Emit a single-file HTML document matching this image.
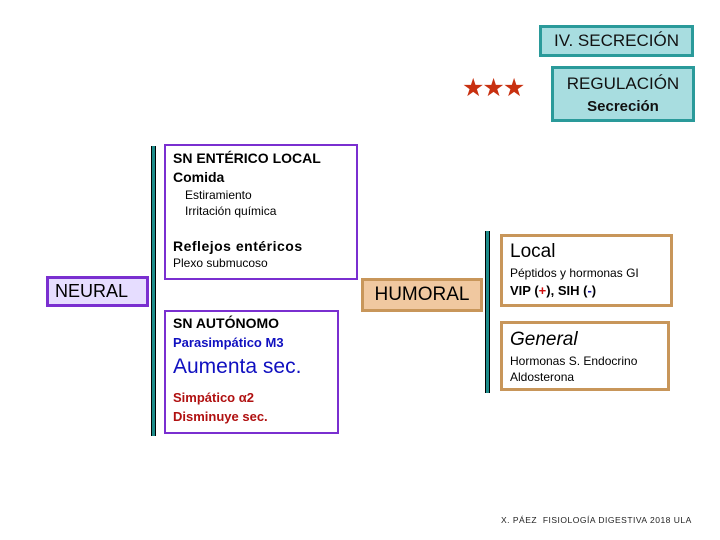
<!DOCTYPE html>
<html><head><meta charset="utf-8"><style>
body{margin:0;width:720px;height:540px;background:#fff;position:relative;overflow:hidden;font-family:"Liberation Sans",sans-serif;}
.a{position:absolute;box-sizing:border-box;}
.p{border:2px solid #7a2fd0;background:#fff;}
.t{border:3px solid #2a9a9a;background:#a8dde0;text-align:center;color:#111;}
.h{border:3px solid #c8965a;background:#fff;}
.bar{background:#1e8c8a;border-left:1px solid #000;border-right:1px solid #000;}
div{white-space:nowrap;}
</style></head><body>
<div class="a t" style="left:539px;top:25px;width:155px;height:32px;font-size:17px;line-height:26px;">IV. SECRECIÓN</div>
<div class="a t" style="left:551px;top:66px;width:144px;height:56px;font-size:17px;line-height:22px;padding-top:4px;">REGULACIÓN<br><b style="font-size:15px">Secreción</b></div>
<div class="a" style="left:462px;top:74px;font-size:25px;color:#c83010;letter-spacing:-2px;line-height:28px;font-family:'DejaVu Sans',sans-serif;">★★★</div>

<div class="a bar" style="left:151px;top:146px;width:5px;height:290px;"></div>
<div class="a" style="left:46px;top:276px;width:103px;height:31px;border:3px solid #7a2fd0;background:#e6ddff;font-size:18px;line-height:25px;padding-left:6px;">NEURAL</div>

<div class="a p" style="left:164px;top:144px;width:194px;height:136px;padding:3px 7px;font-size:12px;line-height:16px;">
<div style="font-weight:bold;font-size:14px;line-height:19px">SN ENTÉRICO LOCAL</div>
<div style="font-weight:bold;font-size:14px;line-height:19px">Comida</div>
<div style="margin-left:12px">Estiramiento</div><div style="margin-left:12px">Irritación química</div>
<div style="height:18px"></div>
<div style="font-weight:bold;font-size:14px;letter-spacing:0.5px;line-height:18px">Reflejos entéricos</div><div>Plexo submucoso</div></div>

<div class="a p" style="left:164px;top:310px;width:175px;height:124px;padding:2px 7px;font-size:14px;line-height:19px;">
<b>SN AUTÓNOMO</b><br><b style="color:#1010c0;font-size:13px">Parasimpático M3</b><br>
<div style="color:#1010c0;font-size:21px;line-height:30px;">Aumenta sec.</div>
<div style="height:6px"></div>
<b style="color:#b01010;font-size:13px">Simpático α2<br>Disminuye sec.</b></div>

<div class="a" style="left:361px;top:278px;width:122px;height:34px;border:3px solid #c8965a;background:#f0c8a0;font-size:19px;line-height:28px;text-align:center;">HUMORAL</div>
<div class="a bar" style="left:485px;top:231px;width:5px;height:162px;"></div>

<div class="a h" style="left:500px;top:234px;width:173px;height:73px;padding:3px 7px;font-size:12px;line-height:18px;">
<span style="font-size:19px;line-height:24px">Local</span><br>Péptidos y hormonas GI<br><b style="font-size:13px">VIP (<span style="color:#d01010">+</span>), SIH (<span style="color:#1010a0">-</span>)</b></div>
<div class="a h" style="left:500px;top:321px;width:170px;height:70px;padding:3px 7px;font-size:12px;line-height:16px;">
<i style="font-size:19px;line-height:26px">General</i><br>Hormonas S. Endocrino<br>Aldosterona</div>

<div class="a" style="left:501px;top:515px;font-size:8.5px;letter-spacing:0.5px;color:#222;">X. PÁEZ &nbsp;FISIOLOGÍA DIGESTIVA 2018 ULA</div>
</body></html>
